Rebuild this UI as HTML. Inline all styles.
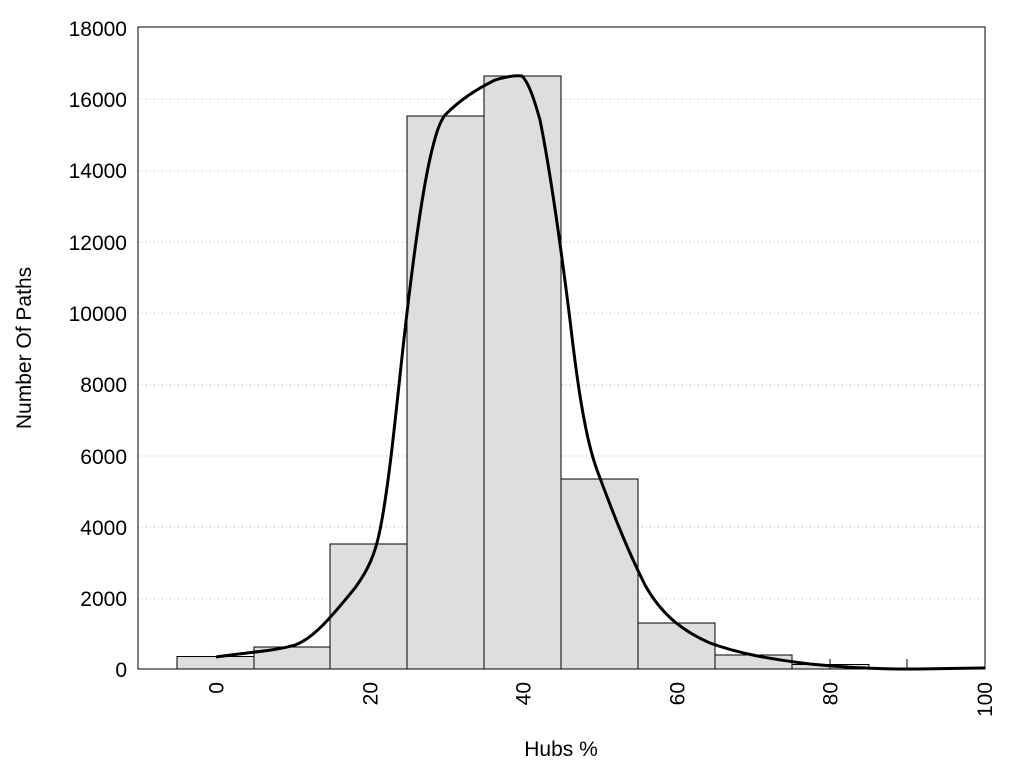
<!DOCTYPE html>
<html><head><style>body{margin:0;background:#fff}svg{display:block}</style></head><body>
<svg width="1024" height="768" xmlns="http://www.w3.org/2000/svg" font-family="Liberation Sans, sans-serif">
<g stroke="#bbb" stroke-width="1" stroke-dasharray="1,3">
<line x1="138" x2="985" y1="598.7" y2="598.7"/><line x1="138" x2="985" y1="527.3" y2="527.3"/>
<line x1="138" x2="985" y1="456" y2="456"/><line x1="138" x2="985" y1="384.7" y2="384.7"/>
<line x1="138" x2="985" y1="313.3" y2="313.3"/><line x1="138" x2="985" y1="242" y2="242"/>
<line x1="138" x2="985" y1="170.7" y2="170.7"/><line x1="138" x2="985" y1="99.3" y2="99.3"/>
</g>
<g fill="#dedede" stroke="#000" stroke-width="1">
<rect x="177" y="656.5" width="77" height="12.5"/>
<rect x="254" y="647" width="76.5" height="22"/>
<rect x="330" y="544" width="77" height="125"/>
<rect x="407" y="116" width="77" height="553"/>
<rect x="484" y="76" width="77" height="593"/>
<rect x="561" y="479" width="77" height="190"/>
<rect x="638" y="623" width="77" height="46"/>
<rect x="715" y="655" width="77" height="14"/>
<rect x="792" y="664.5" width="77" height="4.5"/>
</g>
<g stroke="#000" stroke-width="1">
<line x1="830" y1="669" x2="830" y2="659"/><line x1="907" y1="669" x2="907" y2="659"/>
</g>
<rect x="138" y="27" width="847" height="642" fill="none" stroke="#000" stroke-width="1"/>
<path fill="none" stroke="#000" stroke-width="3" stroke-linejoin="round" d="M216,657 C250,652 275,651 295,645 C315,638 335,612 355,588 C368,570 375,555 380,530 C390,480 397,400 405,330 C413,260 422,190 432,150 C437,130 440,122 445,115 C460,100 475,90 495,80 C505,77 515,75 522,76 C528,82 533,95 540,120 C550,170 560,240 570,320 C578,390 586,440 597,470 C610,505 625,545 645,585 C660,612 680,630 710,643 C740,654 770,659 810,664 C850,668 880,669 905,669 C940,669 965,668 985,668"/>
<g font-size="21" text-anchor="end">
<text x="127" y="677">0</text><text x="127" y="606">2000</text><text x="127" y="535">4000</text>
<text x="127" y="464">6000</text><text x="127" y="392">8000</text><text x="127" y="321">10000</text>
<text x="127" y="250">12000</text><text x="127" y="178">14000</text><text x="127" y="107">16000</text>
<text x="127" y="36">18000</text>
</g>
<g font-size="21" text-anchor="end">
<text transform="translate(223.5,682) rotate(-90)">0</text>
<text transform="translate(377.5,682) rotate(-90)">20</text>
<text transform="translate(530.5,682) rotate(-90)">40</text>
<text transform="translate(684.5,682) rotate(-90)">60</text>
<text transform="translate(837.5,682) rotate(-90)">80</text>
<text transform="translate(992,682) rotate(-90)">100</text>
</g>
<text x="561" y="756" font-size="21" text-anchor="middle">Hubs %</text>
<text transform="translate(31,348) rotate(-90)" font-size="21" text-anchor="middle">Number Of Paths</text>
</svg>
</body></html>
